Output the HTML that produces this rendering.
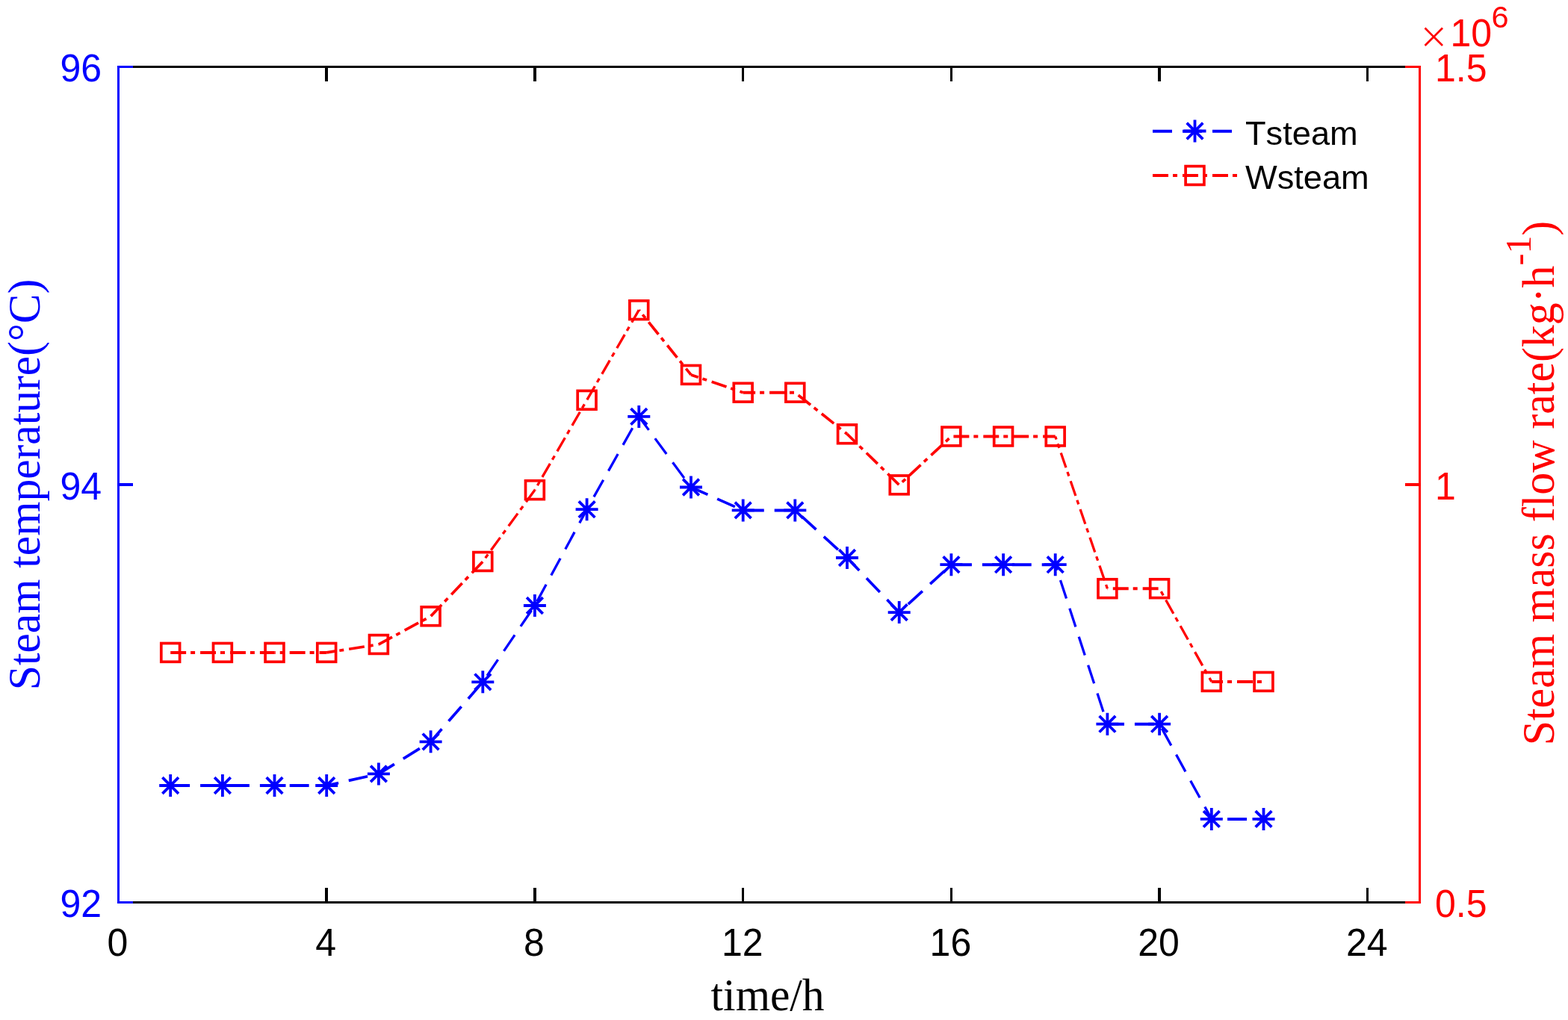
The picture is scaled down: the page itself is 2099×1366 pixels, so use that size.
<!DOCTYPE html>
<html lang="en">
<head>
<meta charset="utf-8">
<title>Steam temperature and mass flow rate</title>
<style>
html,body{margin:0;padding:0;background:#fff;}
body{width:2099px;height:1366px;overflow:hidden;}
svg{display:block;}
text{font-kerning:none;}
.sans{font-family:"Liberation Sans",sans-serif;}
.serif{font-family:"Liberation Serif",serif;}
</style>
</head>
<body>
<svg width="2099" height="1366" viewBox="0 0 2099 1366">
<rect x="0" y="0" width="2099" height="1366" fill="#ffffff"/>
<g shape-rendering="crispEdges">
<rect x="157" y="88" width="1745" height="3" fill="#000000"/>
<rect x="157" y="1207" width="1745" height="3" fill="#000000"/>
<rect x="435" y="88" width="4" height="21" fill="#000000"/>
<rect x="435" y="1189" width="4" height="21" fill="#000000"/>
<rect x="714" y="88" width="4" height="21" fill="#000000"/>
<rect x="714" y="1189" width="4" height="21" fill="#000000"/>
<rect x="993" y="88" width="3" height="21" fill="#000000"/>
<rect x="993" y="1189" width="3" height="21" fill="#000000"/>
<rect x="1272" y="88" width="3" height="21" fill="#000000"/>
<rect x="1272" y="1189" width="3" height="21" fill="#000000"/>
<rect x="1550" y="88" width="4" height="21" fill="#000000"/>
<rect x="1550" y="1189" width="4" height="21" fill="#000000"/>
<rect x="1829" y="88" width="3" height="21" fill="#000000"/>
<rect x="1829" y="1189" width="3" height="21" fill="#000000"/>
<rect x="157" y="88" width="3" height="1122" fill="#0000ff"/>
<rect x="157" y="88" width="21" height="3" fill="#0000ff"/>
<rect x="157" y="647" width="21" height="4" fill="#0000ff"/>
<rect x="157" y="1207" width="21" height="3" fill="#0000ff"/>
<rect x="1899" y="88" width="3" height="1122" fill="#ff0000"/>
<rect x="1881" y="88" width="21" height="3" fill="#ff0000"/>
<rect x="1881" y="647" width="21" height="4" fill="#ff0000"/>
<rect x="1881" y="1207" width="21" height="3" fill="#ff0000"/>
</g>
<g class="sans" font-size="50" fill="#000000" text-anchor="middle">
<text transform="translate(157.5,1280) scale(1,1.03)">0</text>
<text transform="translate(436.2,1280) scale(1,1.03)">4</text>
<text transform="translate(714.9,1280) scale(1,1.03)">8</text>
<text transform="translate(993.7,1280) scale(1,1.03)">12</text>
<text transform="translate(1272.4,1280) scale(1,1.03)">16</text>
<text transform="translate(1551.1,1280) scale(1,1.03)">20</text>
<text transform="translate(1829.8,1280) scale(1,1.03)">24</text>
</g>
<g class="sans" font-size="50" fill="#0000ff" text-anchor="end">
<text transform="translate(136,109.0) scale(1,1.03)">96</text>
<text transform="translate(136,668.5) scale(1,1.03)">94</text>
<text transform="translate(136,1228.0) scale(1,1.03)">92</text>
</g>
<g class="sans" font-size="50" fill="#ff0000">
<text transform="translate(1921,109.0) scale(1,1.03)">1.5</text>
<text transform="translate(1921,668.5) scale(1,1.03)">1</text>
<text transform="translate(1921,1228.0) scale(1,1.03)">0.5</text>
<text x="1899.5" y="64.2" font-size="39.5" style="font-family:'Noto Sans CJK SC','IPAGothic','Liberation Sans',sans-serif">×</text>
<text transform="translate(1941.5,62) scale(1,1.03)">10</text>
<text x="1996.5" y="37.2" font-size="41.5">6</text>
</g>
<text class="serif" font-size="60" fill="#000000" text-anchor="middle" transform="translate(1027.6,1353) scale(0.992,1.03)">time/h</text>
<text class="serif" font-size="60" fill="#0000ff" text-anchor="middle" transform="translate(53,649) rotate(-90) scale(0.991,1.02)">Steam temperature(°C)</text>
<text class="serif" font-size="60" fill="#ff0000" text-anchor="middle" transform="translate(2080,647) rotate(-90) scale(0.997,1.02)">Steam mass flow rate(kg·h<tspan font-size="48" dy="-30">-1</tspan><tspan dy="30">)</tspan></text>
<g fill="none" stroke="#ff0000" stroke-dasharray="20.94 5.98 5.98 6.99">
<line x1="228.2" y1="873.9" x2="297.9" y2="873.9" stroke-width="4.0" stroke-dashoffset="0.00"/>
<line x1="297.9" y1="873.9" x2="367.5" y2="873.9" stroke-width="4.0" stroke-dashoffset="29.79"/>
<line x1="367.5" y1="873.9" x2="437.2" y2="873.9" stroke-width="4.0" stroke-dashoffset="19.69"/>
<line x1="437.2" y1="873.9" x2="506.9" y2="863.0" stroke-width="3.7" stroke-dashoffset="9.59"/>
<line x1="506.9" y1="863.0" x2="576.6" y2="825.3" stroke-width="3.7" stroke-dashoffset="0.34"/>
<line x1="576.6" y1="825.3" x2="646.3" y2="752.0" stroke-width="3.7" stroke-dashoffset="39.67"/>
<line x1="646.3" y1="752.0" x2="715.9" y2="656.2" stroke-width="3.3" stroke-dashoffset="21.14"/>
<line x1="715.9" y1="656.2" x2="785.6" y2="535.8" stroke-width="3.3" stroke-dashoffset="19.93"/>
<line x1="785.6" y1="535.8" x2="855.3" y2="415.2" stroke-width="3.3" stroke-dashoffset="39.37"/>
<line x1="855.3" y1="415.2" x2="925.0" y2="501.9" stroke-width="3.7" stroke-dashoffset="19.09"/>
<line x1="925.0" y1="501.9" x2="994.7" y2="525.7" stroke-width="3.7" stroke-dashoffset="10.65"/>
<line x1="994.7" y1="525.7" x2="1064.3" y2="525.7" stroke-width="4.0" stroke-dashoffset="4.50"/>
<line x1="1064.3" y1="525.7" x2="1134.0" y2="581.3" stroke-width="3.7" stroke-dashoffset="34.29"/>
<line x1="1134.0" y1="581.3" x2="1203.7" y2="649.4" stroke-width="3.7" stroke-dashoffset="3.77"/>
<line x1="1203.7" y1="649.4" x2="1273.4" y2="584.5" stroke-width="3.7" stroke-dashoffset="21.42"/>
<line x1="1273.4" y1="584.5" x2="1343.1" y2="584.5" stroke-width="4.0" stroke-dashoffset="36.86"/>
<line x1="1343.1" y1="584.5" x2="1412.7" y2="584.5" stroke-width="4.0" stroke-dashoffset="26.76"/>
<line x1="1412.7" y1="584.5" x2="1482.4" y2="788.2" stroke-width="3.3" stroke-dashoffset="16.66"/>
<line x1="1482.4" y1="788.2" x2="1552.1" y2="788.2" stroke-width="4.0" stroke-dashoffset="32.50"/>
<line x1="1552.1" y1="788.2" x2="1621.8" y2="912.9" stroke-width="3.3" stroke-dashoffset="22.40"/>
<line x1="1621.8" y1="912.9" x2="1691.5" y2="912.9" stroke-width="4.0" stroke-dashoffset="5.69"/>
</g>
<g fill="none" stroke="#0000ff" stroke-dasharray="25.93 13.96">
<line x1="228.2" y1="1052.0" x2="297.9" y2="1052.0" stroke-width="4.0" stroke-dashoffset="0.00"/>
<line x1="297.9" y1="1052.0" x2="367.5" y2="1052.0" stroke-width="4.0" stroke-dashoffset="29.79"/>
<line x1="367.5" y1="1052.0" x2="437.2" y2="1052.0" stroke-width="4.0" stroke-dashoffset="19.69"/>
<line x1="437.2" y1="1052.0" x2="506.9" y2="1036.4" stroke-width="3.7" stroke-dashoffset="9.59"/>
<line x1="506.9" y1="1036.4" x2="576.6" y2="993.3" stroke-width="3.7" stroke-dashoffset="1.21"/>
<line x1="576.6" y1="993.3" x2="646.3" y2="913.3" stroke-width="3.7" stroke-dashoffset="3.37"/>
<line x1="646.3" y1="913.3" x2="715.9" y2="811.0" stroke-width="3.3" stroke-dashoffset="29.68"/>
<line x1="715.9" y1="811.0" x2="785.6" y2="682.2" stroke-width="3.3" stroke-dashoffset="33.78"/>
<line x1="785.6" y1="682.2" x2="855.3" y2="557.9" stroke-width="3.3" stroke-dashoffset="20.66"/>
<line x1="855.3" y1="557.9" x2="925.0" y2="652.5" stroke-width="3.3" stroke-dashoffset="3.60"/>
<line x1="925.0" y1="652.5" x2="994.7" y2="683.4" stroke-width="3.7" stroke-dashoffset="1.43"/>
<line x1="994.7" y1="683.4" x2="1064.3" y2="683.4" stroke-width="4.0" stroke-dashoffset="37.76"/>
<line x1="1064.3" y1="683.4" x2="1134.0" y2="747.0" stroke-width="3.7" stroke-dashoffset="27.66"/>
<line x1="1134.0" y1="747.0" x2="1203.7" y2="820.1" stroke-width="3.7" stroke-dashoffset="2.33"/>
<line x1="1203.7" y1="820.1" x2="1273.4" y2="756.2" stroke-width="3.7" stroke-dashoffset="23.54"/>
<line x1="1273.4" y1="756.2" x2="1343.1" y2="756.2" stroke-width="4.0" stroke-dashoffset="38.30"/>
<line x1="1343.1" y1="756.2" x2="1412.7" y2="756.2" stroke-width="4.0" stroke-dashoffset="28.20"/>
<line x1="1412.7" y1="756.2" x2="1482.4" y2="969.7" stroke-width="3.3" stroke-dashoffset="18.10"/>
<line x1="1482.4" y1="969.7" x2="1552.1" y2="969.7" stroke-width="4.0" stroke-dashoffset="3.35"/>
<line x1="1552.1" y1="969.7" x2="1621.8" y2="1096.9" stroke-width="3.3" stroke-dashoffset="33.14"/>
<line x1="1621.8" y1="1096.9" x2="1691.5" y2="1096.9" stroke-width="4.0" stroke-dashoffset="18.61"/>
</g>
<g fill="none" stroke="#ff0000" stroke-width="3.7">
<rect x="215.8" y="861.5" width="24.8" height="24.8"/>
<rect x="285.5" y="861.5" width="24.8" height="24.8"/>
<rect x="355.1" y="861.5" width="24.8" height="24.8"/>
<rect x="424.8" y="861.5" width="24.8" height="24.8"/>
<rect x="494.5" y="850.6" width="24.8" height="24.8"/>
<rect x="564.2" y="812.9" width="24.8" height="24.8"/>
<rect x="633.9" y="739.6" width="24.8" height="24.8"/>
<rect x="703.5" y="643.8" width="24.8" height="24.8"/>
<rect x="773.2" y="523.4" width="24.8" height="24.8"/>
<rect x="842.9" y="402.8" width="24.8" height="24.8"/>
<rect x="912.6" y="489.5" width="24.8" height="24.8"/>
<rect x="982.3" y="513.3" width="24.8" height="24.8"/>
<rect x="1051.9" y="513.3" width="24.8" height="24.8"/>
<rect x="1121.6" y="568.9" width="24.8" height="24.8"/>
<rect x="1191.3" y="637.0" width="24.8" height="24.8"/>
<rect x="1261.0" y="572.1" width="24.8" height="24.8"/>
<rect x="1330.7" y="572.1" width="24.8" height="24.8"/>
<rect x="1400.3" y="572.1" width="24.8" height="24.8"/>
<rect x="1470.0" y="775.8" width="24.8" height="24.8"/>
<rect x="1539.7" y="775.8" width="24.8" height="24.8"/>
<rect x="1609.4" y="900.5" width="24.8" height="24.8"/>
<rect x="1679.1" y="900.5" width="24.8" height="24.8"/>
<rect x="1587.1" y="222.6" width="24.8" height="24.8"/>
</g>
<g fill="none" stroke="#0000ff" stroke-width="3.8">
<path d="M213.2 1052.0h30.0M228.2 1037.0v30.0M217.4 1041.2l21.6 21.6M217.4 1062.8l21.6 -21.6"/>
<path d="M282.9 1052.0h30.0M297.9 1037.0v30.0M287.1 1041.2l21.6 21.6M287.1 1062.8l21.6 -21.6"/>
<path d="M352.5 1052.0h30.0M367.5 1037.0v30.0M356.7 1041.2l21.6 21.6M356.7 1062.8l21.6 -21.6"/>
<path d="M422.2 1052.0h30.0M437.2 1037.0v30.0M426.4 1041.2l21.6 21.6M426.4 1062.8l21.6 -21.6"/>
<path d="M491.9 1036.4h30.0M506.9 1021.4v30.0M496.1 1025.6l21.6 21.6M496.1 1047.2l21.6 -21.6"/>
<path d="M561.6 993.3h30.0M576.6 978.3v30.0M565.8 982.5l21.6 21.6M565.8 1004.1l21.6 -21.6"/>
<path d="M631.3 913.3h30.0M646.3 898.3v30.0M635.5 902.5l21.6 21.6M635.5 924.1l21.6 -21.6"/>
<path d="M700.9 811.0h30.0M715.9 796.0v30.0M705.1 800.2l21.6 21.6M705.1 821.8l21.6 -21.6"/>
<path d="M770.6 682.2h30.0M785.6 667.2v30.0M774.8 671.4l21.6 21.6M774.8 693.0l21.6 -21.6"/>
<path d="M840.3 557.9h30.0M855.3 542.9v30.0M844.5 547.1l21.6 21.6M844.5 568.7l21.6 -21.6"/>
<path d="M910.0 652.5h30.0M925.0 637.5v30.0M914.2 641.7l21.6 21.6M914.2 663.3l21.6 -21.6"/>
<path d="M979.7 683.4h30.0M994.7 668.4v30.0M983.9 672.6l21.6 21.6M983.9 694.2l21.6 -21.6"/>
<path d="M1049.3 683.4h30.0M1064.3 668.4v30.0M1053.5 672.6l21.6 21.6M1053.5 694.2l21.6 -21.6"/>
<path d="M1119.0 747.0h30.0M1134.0 732.0v30.0M1123.2 736.2l21.6 21.6M1123.2 757.8l21.6 -21.6"/>
<path d="M1188.7 820.1h30.0M1203.7 805.1v30.0M1192.9 809.3l21.6 21.6M1192.9 830.9l21.6 -21.6"/>
<path d="M1258.4 756.2h30.0M1273.4 741.2v30.0M1262.6 745.4l21.6 21.6M1262.6 767.0l21.6 -21.6"/>
<path d="M1328.1 756.2h30.0M1343.1 741.2v30.0M1332.3 745.4l21.6 21.6M1332.3 767.0l21.6 -21.6"/>
<path d="M1397.7 756.2h30.0M1412.7 741.2v30.0M1401.9 745.4l21.6 21.6M1401.9 767.0l21.6 -21.6"/>
<path d="M1467.4 969.7h30.0M1482.4 954.7v30.0M1471.6 958.9l21.6 21.6M1471.6 980.5l21.6 -21.6"/>
<path d="M1537.1 969.7h30.0M1552.1 954.7v30.0M1541.3 958.9l21.6 21.6M1541.3 980.5l21.6 -21.6"/>
<path d="M1606.8 1096.9h30.0M1621.8 1081.9v30.0M1611.0 1086.1l21.6 21.6M1611.0 1107.7l21.6 -21.6"/>
<path d="M1676.5 1096.9h30.0M1691.5 1081.9v30.0M1680.7 1086.1l21.6 21.6M1680.7 1107.7l21.6 -21.6"/>
<path d="M1584.5 175.5h30.0M1599.5 160.5v30.0M1588.7 164.7l21.6 21.6M1588.7 186.3l21.6 -21.6"/>
</g>
<line x1="1543" y1="175.8" x2="1656" y2="175.8" stroke="#0000ff" stroke-width="4" stroke-dasharray="26 14"/>
<line x1="1543" y1="235" x2="1656" y2="235" stroke="#ff0000" stroke-width="4" stroke-dasharray="21 6 6 7"/>
<g class="sans" font-size="45.2" fill="#000000">
<text x="1667" y="194">Tsteam</text>
<text x="1667" y="253.3">Wsteam</text>
</g>
</svg>
</body>
</html>
